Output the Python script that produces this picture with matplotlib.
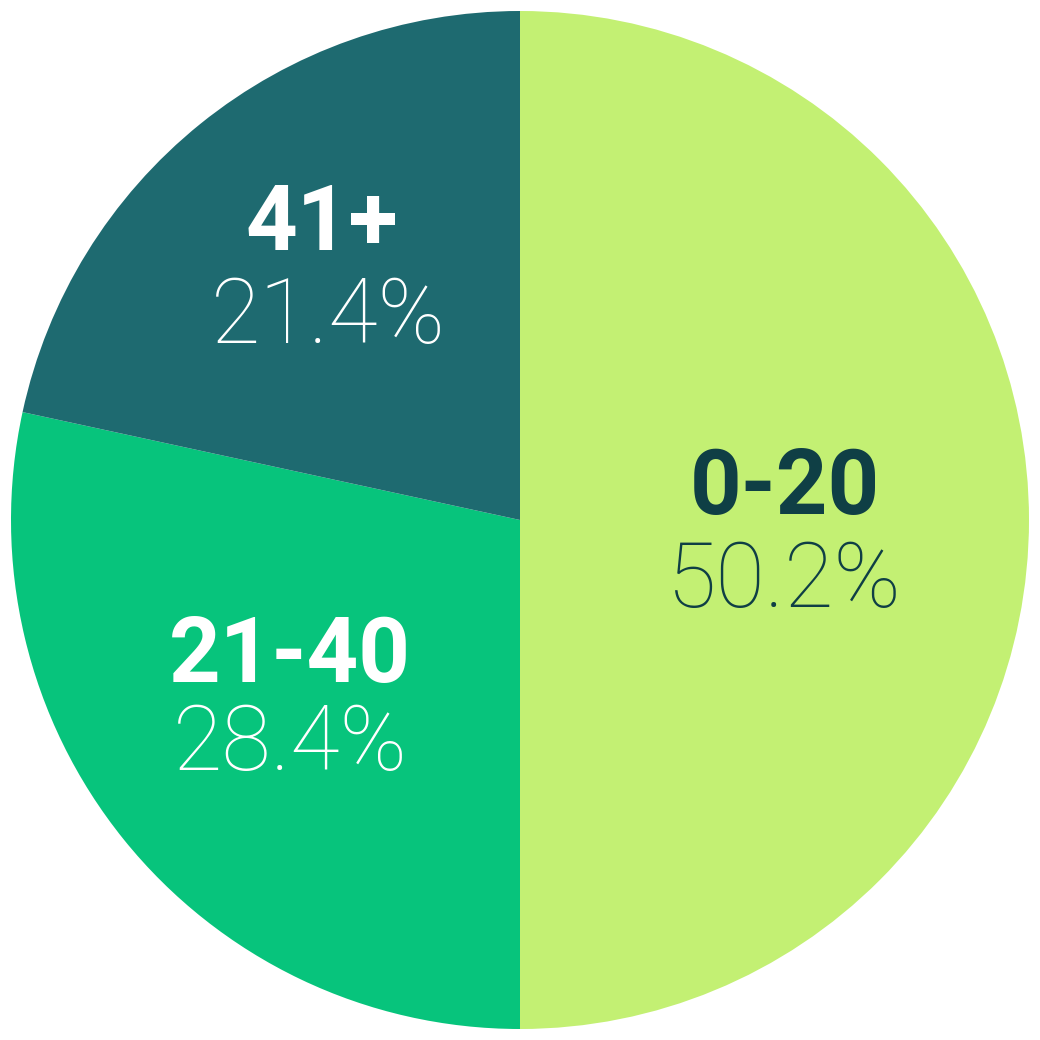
import matplotlib.pyplot as plt

labels = ['0-20', '21-40', '41+']
shares = [50.2, 28.4, 21.4]          # printed percentages
wedge_sizes = [50.0, 28.4, 21.6]     # slice sizes as drawn in the picture
colors = ['#C3F073', '#07C47C', '#1E6A70']
text_colors = ['#0F3F45', '#FFFFFF', '#FFFFFF']

# label centres (data coords, pie radius = 1)
label_pos = [(0.52, 0.06), (-0.452, -0.27), (-0.39, 0.58)]
pct_pos = [(0.52, -0.122), (-0.452, -0.443), (-0.377, 0.397)]

fig = plt.figure(figsize=(10.4, 10.4), dpi=100)
ax = fig.add_axes([0, 0, 1, 1])
ax.pie(wedge_sizes, colors=colors, startangle=90, counterclock=False, radius=1,
       wedgeprops=dict(linewidth=0))
lim = 520 / 509
ax.set_xlim(-lim, lim)
ax.set_ylim(-lim, lim)
ax.set_aspect('equal')
ax.axis('off')

for i in range(len(labels)):
    ax.text(label_pos[i][0], label_pos[i][1], labels[i], ha='center', va='center',
            fontsize=65, fontweight='bold', family='Roboto', color=text_colors[i])
    ax.text(pct_pos[i][0], pct_pos[i][1], f'{shares[i]:.1f}%', ha='center', va='center',
            fontsize=65, fontweight='light', family='Roboto', color=text_colors[i])

fig.savefig('out.png', dpi=100, facecolor='white')
